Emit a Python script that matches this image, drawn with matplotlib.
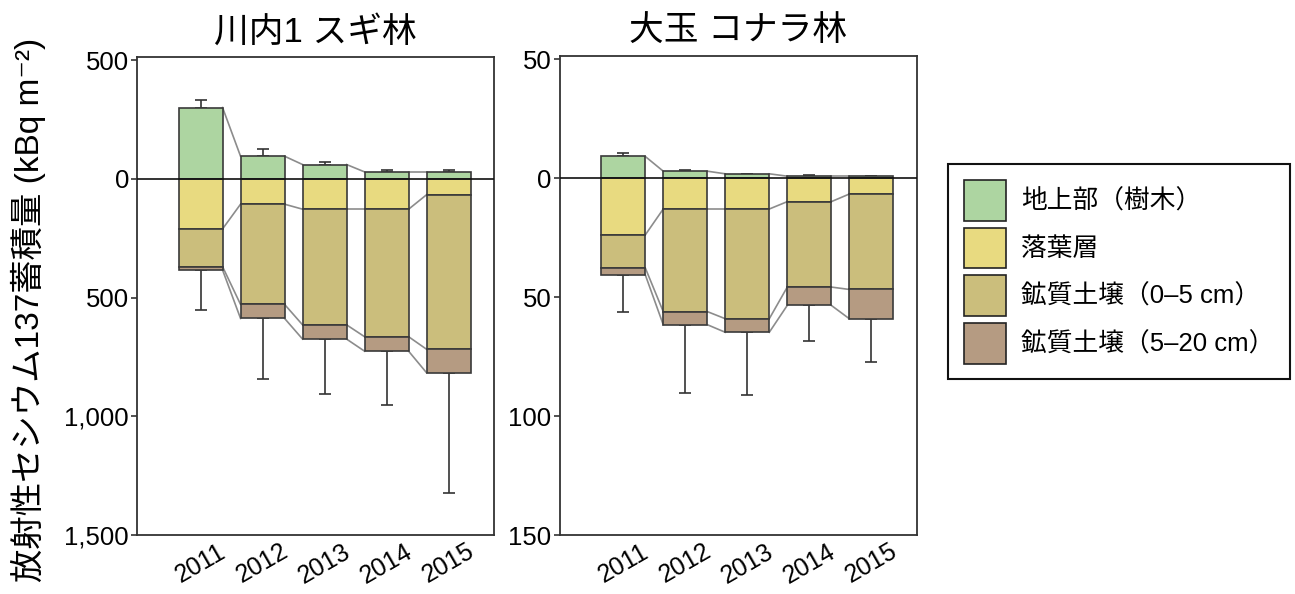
import numpy as np
import matplotlib
matplotlib.use("Agg")
import matplotlib.pyplot as plt
from matplotlib.patches import Patch
from matplotlib.ticker import FuncFormatter

plt.rcParams['font.family'] = ['Liberation Sans', 'Noto Sans CJK JP', 'DejaVu Sans']

years = ['2011', '2012', '2013', '2014', '2015']
layer_names = ['地上部（樹木）', '落葉層', '鉱質土壌（0–5 cm）', '鉱質土壌（5–20 cm）']
colors = ['#add5a1', '#e8da80', '#cbbe7c', '#b59b82']

# 川内1 スギ林 (kBq m-2)
kawauchi_tree = [300, 95, 60, 29, 29]
kawauchi_tree_err = [31, 32, 11, 6, 6]
kawauchi_litter = [211, 107, 128, 128, 67]
kawauchi_soil05 = [159, 422, 487, 537, 651]
kawauchi_soil520 = [14, 59, 60, 61, 99]
kawauchi_soil_err = [169, 253, 231, 227, 504]

# 大玉 コナラ林 (kBq m-2)
otama_tree = [9.1, 2.9, 1.8, 0.8, 0.8]
otama_tree_err = [1.5, 0.5, 0.0, 0.5, 0.0]
otama_litter = [23.9, 13.0, 13.0, 9.9, 6.7]
otama_soil05 = [13.8, 43.1, 46.1, 35.9, 40.1]
otama_soil520 = [2.9, 5.5, 5.7, 7.7, 12.3]
otama_soil_err = [15.5, 28.8, 26.3, 14.9, 18.0]


def draw_panel(ax, title, tree, tree_err, litter, soil05, soil520, soil_err, yticks, ytop):
    x = np.arange(len(years))
    w = 0.71
    tree = np.array(tree)
    lit = np.array(litter)
    s05 = np.array(soil05)
    s520 = np.array(soil520)
    edge = '#3a3a3a'

    b_lit = -lit
    b_05 = b_lit - s05
    b_520 = b_05 - s520

    # connecting lines between bars
    for lev in [tree, b_lit, b_05, b_520]:
        for i in range(len(x) - 1):
            ax.plot([x[i] + w / 2, x[i + 1] - w / 2], [lev[i], lev[i + 1]],
                    color='#8c8c8c', lw=1.2, zorder=1)

    ax.bar(x, tree, w, color=colors[0], edgecolor=edge, lw=1.2, zorder=2)
    ax.bar(x, -lit, w, color=colors[1], edgecolor=edge, lw=1.2, zorder=2)
    ax.bar(x, -s05, w, bottom=b_lit, color=colors[2], edgecolor=edge, lw=1.2, zorder=2)
    ax.bar(x, -s520, w, bottom=b_05, color=colors[3], edgecolor=edge, lw=1.2, zorder=2)

    zeros = np.zeros(len(x))
    ax.errorbar(x, tree, yerr=[zeros, tree_err], fmt='none', ecolor='#333333',
                elinewidth=1.2, capsize=4.5, capthick=1.2, zorder=1.5)
    ax.errorbar(x, b_520, yerr=[soil_err, zeros], fmt='none', ecolor='#333333',
                elinewidth=1.2, capsize=4.5, capthick=1.2, zorder=1.5)

    ax.axhline(0, color='#111111', lw=1.2, zorder=3)

    ax.set_xlim(-1.02, 4.73)
    ax.set_ylim(yticks[-1], ytop)
    ax.set_yticks(yticks)
    ax.yaxis.set_major_formatter(FuncFormatter(lambda v, p: f'{abs(v):,.0f}'))
    ax.set_xticks(x)
    ax.set_xticklabels(years, rotation=30, ha='center')
    ax.tick_params(axis='x', length=0, labelsize=18, pad=3)
    ax.tick_params(axis='y', length=4, width=1.2, color='#333333', labelsize=18.5, pad=2)
    for s in ax.spines.values():
        s.set_color('#333333')
        s.set_linewidth(1.3)
    ax.set_title(title, fontsize=25, pad=11)


fig = plt.figure(figsize=(12.95, 5.94), dpi=100)
ax1 = fig.add_axes([0.106, 0.0993, 0.2754, 0.804])
ax2 = fig.add_axes([0.4324, 0.0993, 0.2754, 0.806])

draw_panel(ax1, '川内1 スギ林', kawauchi_tree, kawauchi_tree_err, kawauchi_litter,
           kawauchi_soil05, kawauchi_soil520, kawauchi_soil_err,
           [500, 0, -500, -1000, -1500], 511)
draw_panel(ax2, '大玉 コナラ林', otama_tree, otama_tree_err, otama_litter,
           otama_soil05, otama_soil520, otama_soil_err,
           [50, 0, -50, -100, -150], 51.2)

fig.text(28 / 1295, 1 - 310 / 594, '放射性セシウム137蓄積量 (kBq m⁻²)',
         rotation=90, ha='center', va='center', fontsize=24)

handles = [Patch(facecolor=c, edgecolor='#222222', lw=1.2) for c in colors]
leg = fig.legend(handles, layer_names, loc='upper left',
                 bbox_to_anchor=(948 / 1295, 1 - 164 / 594), borderaxespad=0,
                 fontsize=18.5, handlelength=1.62, handleheight=2.06,
                 labelspacing=0.27, handletextpad=0.6, borderpad=0.62,
                 fancybox=False, framealpha=1)
leg.get_frame().set_edgecolor('#111111')
leg.get_frame().set_linewidth(1.5)

fig.savefig('out.png', dpi=100)
